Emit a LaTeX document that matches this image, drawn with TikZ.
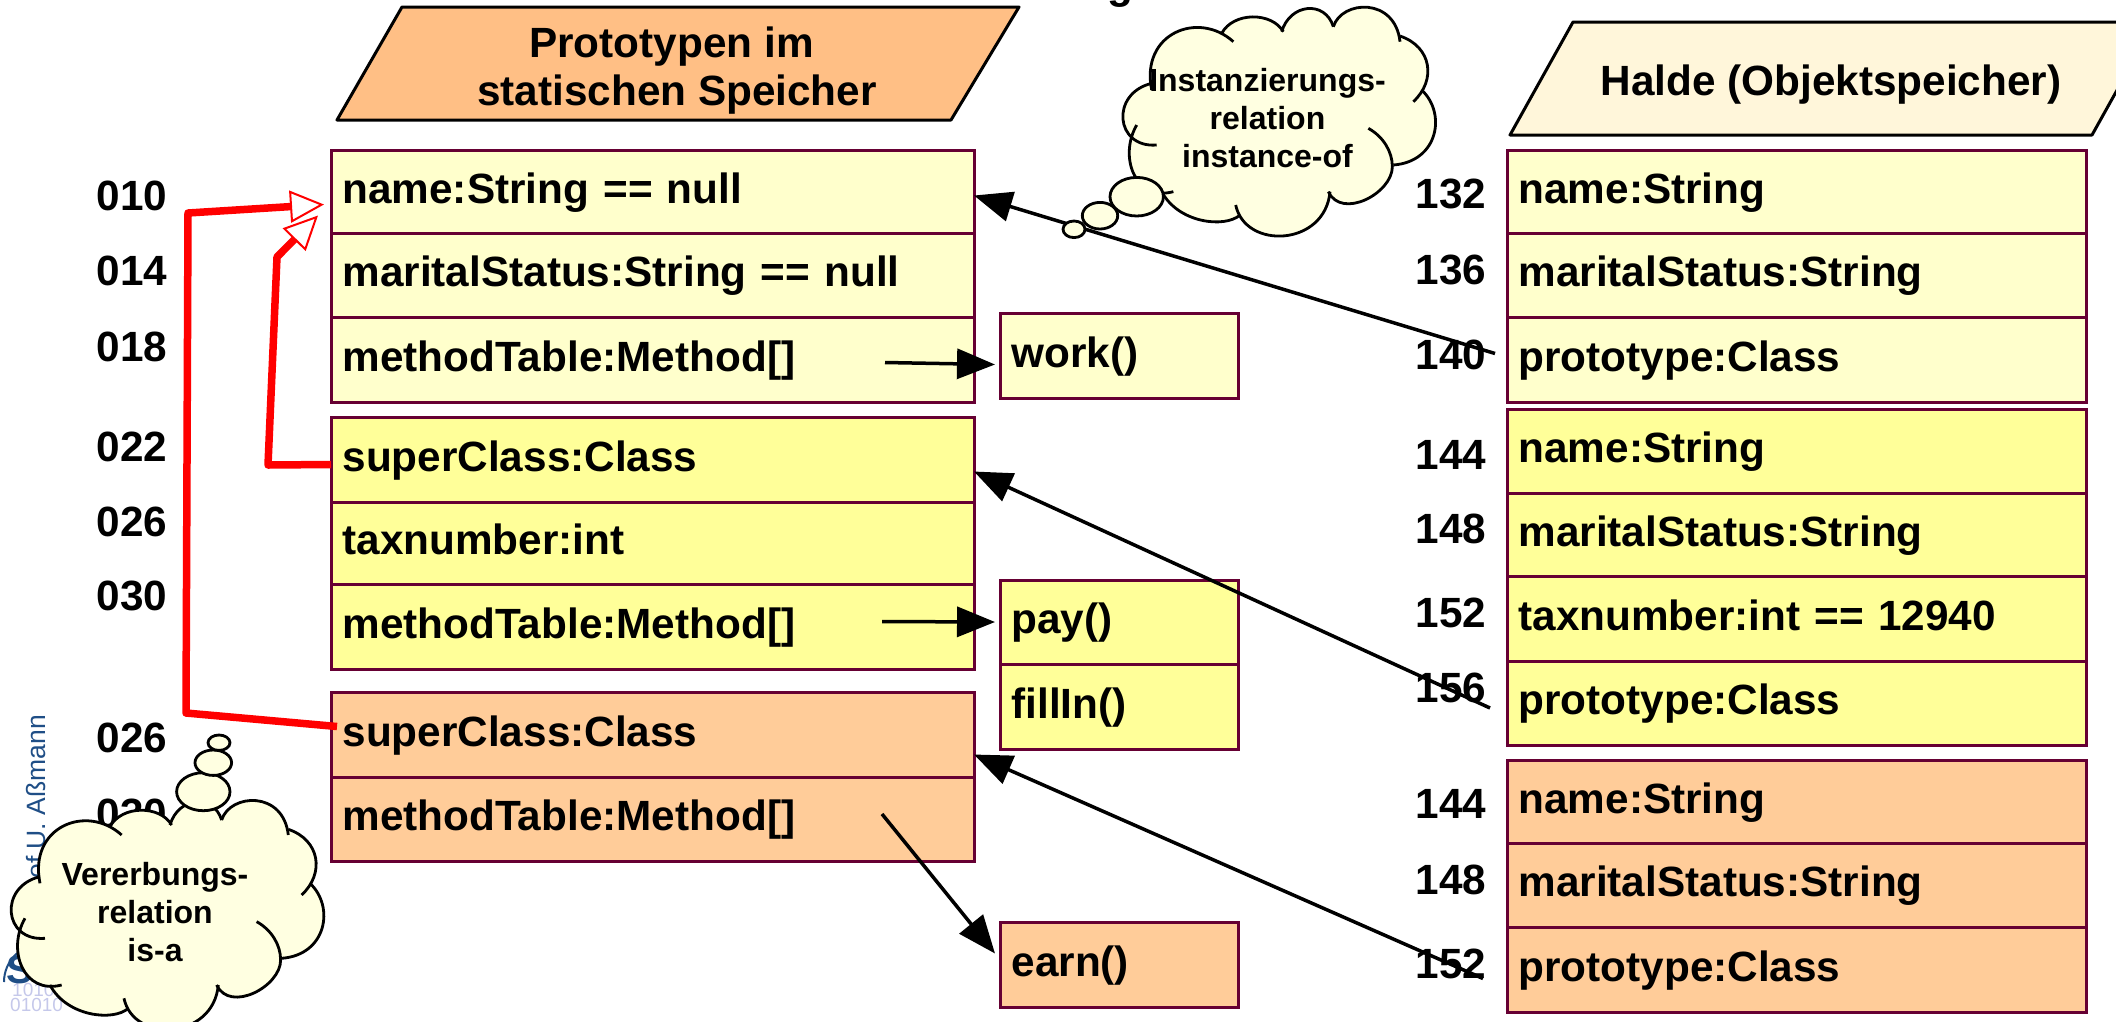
\documentclass[tikz,border=0pt]{standalone}
\usepackage{xcolor}
\usepackage{fontspec}
\setmainfont{Liberation Sans}
\usepackage{tikz}
\usetikzlibrary{arrows.meta, positioning, calc}

\definecolor{paleyellow}{HTML}{FFFFCC}
\definecolor{brightyellow}{HTML}{FFFF99}
\definecolor{paleorange}{HTML}{FFCC99}
\definecolor{headorange}{HTML}{FFBF85}
\definecolor{headcream}{HTML}{FFF6DA}
\definecolor{cloudyellow}{HTML}{FFFFE1}
\definecolor{boxline}{HTML}{660033}
\definecolor{logoblue}{HTML}{1F4E86}
\definecolor{logolight}{HTML}{C5C8EA}

\tikzset{
	rowbox/.style={draw=boxline, line width=3pt, rectangle, anchor=north west, outer sep=0pt, inner ysep=0pt, inner xsep=11.5pt, align=left, text height=33pt, text depth=10pt, font=\rowfont},
	leftrow/.style={rowbox, text width=620pt},
	rightrow/.style={rowbox, text width=556pt},
	methodrow/.style={rowbox, text width=215pt},
	addr/.style={anchor=base, inner sep=0pt, font=\rowfont},
	headbox/.style={draw=black, line width=3pt, line join=round},
	headtext/.style={align=center, inner sep=0pt, font=\rowfont},
	cloudtext/.style={align=center, inner sep=0pt, font=\cloudfont},
	bubble/.style={draw=black, fill=cloudyellow, line width=2.8pt},
	logobits/.style={anchor=west, inner sep=0pt, text=logolight, font=\fontsize{19}{22}\selectfont},
	ptr/.style={draw=black, line width=3.5pt, -{Triangle[length=38pt, width=30pt]}},
	isa/.style={draw=red, line width=7.5pt, line join=round, -{Triangle[length=34pt, width=32pt, fill=white, line width=2pt]}}
}

\newcommand{\rowfont}{\fontsize{42.3}{48}\selectfont\bfseries}
\newcommand{\cloudfont}{\fontsize{32}{38}\selectfont\bfseries}

% one cloud, in a 1/3 scale grid
\newcommand{\cloudshape}[1]{
	\begin{scope}[shift={(#1)}, scale=0.3333]
		\fill[cloudyellow] (135,775) .. controls (10,785) and (-5,620) .. (120,590)
			-- (120,610) .. controls (85,440) and (260,370) .. (365,465)
			-- (330,440) .. controls (365,375) and (480,375) .. (515,435)
			.. controls (535,350) and (640,340) .. (665,420)
			.. controls (690,340) and (850,330) .. (865,465)
			-- (865,448) .. controls (960,480) and (975,580) .. (905,645)
			-- (930,610) .. controls (1005,680) and (980,825) .. (845,835)
			.. controls (842,920) and (690,1000) .. (650,915)
			.. controls (640,1080) and (400,1090) .. (372,955)
			-- (385,985) .. controls (340,1025) and (200,1010) .. (150,915)
			-- (185,915) .. controls (70,945) and (20,810) .. (75,715) -- cycle;
		\begin{scope}[draw=black, line width=2.8pt]
			\draw (135,775) .. controls (10,785) and (-5,620) .. (120,590);
			\draw (120,610) .. controls (85,440) and (260,370) .. (365,465);
			\draw (330,440) .. controls (365,375) and (480,375) .. (515,435);
			\draw (510,435) .. controls (535,350) and (640,340) .. (665,420);
			\draw (665,420) .. controls (690,340) and (850,330) .. (865,465);
			\draw (865,448) .. controls (960,480) and (975,580) .. (905,645);
			\draw (930,610) .. controls (1005,680) and (980,825) .. (845,835);
			\draw (770,725) .. controls (815,750) and (842,795) .. (842,840) .. controls (842,920) and (690,1000) .. (650,915);
			\draw (655,915) .. controls (640,1080) and (400,1090) .. (372,955);
			\draw (385,985) .. controls (340,1025) and (200,1010) .. (150,915);
			\draw (185,915) .. controls (70,945) and (20,810) .. (75,715);
		\end{scope}
	\end{scope}
}

\begin{document}
\begin{tikzpicture}[x=1pt, y=-1pt]
	\useasboundingbox (0,0) rectangle (2116,1021);
	\clip (0,0) rectangle (2116,1021);

	% page furniture behind the picture
	\node[anchor=base, inner sep=0pt, font=\rowfont] (topletter) at (1120,-2) {g};
	\node[rotate=90, anchor=base east, inner sep=0pt, text=logoblue, font=\fontsize{26.5}{30}\selectfont] (author) at (45,715) {Prof U. Aßmann};
	\draw[logoblue, line width=2pt] (4,982) arc (180:360:38);
	\node[logobits] (logobitsA) at (12,990) {1010};
	\node[logobits] (logobitsB) at (10,1005) {01010};
	\node[anchor=west, inner sep=0pt, text=logoblue, font=\fontsize{40}{44}\selectfont\bfseries] (logoletter) at (6,970) {S};

	% headers
	\draw[headbox, fill=headorange] (337,120) -- (402,7) -- (1019,7) -- (951,120) -- cycle;
	\node[headtext] (headstatic) at (677,71) {Prototypen im\hspace*{11pt}\\statischen Speicher};
	\draw[headbox, fill=headcream] (1510,135) -- (1573,22) -- (2155,22) -- (2092,135) -- cycle;
	\node[headtext] (headheap) at (1831,85) {Halde (Objektspeicher)};

	% addresses
	\foreach \i/\y/\t in {1/196/010, 2/271/014, 3/347/018, 4/447/022, 5/522/026, 6/596/030, 7/738/026, 8/814/030}
	\node[addr] (addrL\i) at (132,\y+14) {\t};

	\foreach \i/\y/\t in {1/194/132, 2/270/136, 3/355/140, 4/455/144, 5/529/148, 6/613/152, 7/688/156, 8/804/144, 9/880/148, 10/964/152}
	\node[addr] (addrR\i) at (1451,\y+14) {\t};

	% prototypes
	\foreach \rowname/\y/\h/\rowtext in {nameA/150/83/{name:String == null}, statusA/233/84/{maritalStatus:String == null}, methodA/317/85/{methodTable:Method[]}}
	\node[leftrow, fill=paleyellow, minimum height=\h pt] (\rowname) at (331,\y) {\rowtext};

	\foreach \rowname/\y/\h/\rowtext in {superB/417/85/{superClass:Class}, taxB/502/82/{taxnumber:int}, methodB/584/85/{methodTable:Method[]}}
	\node[leftrow, fill=brightyellow, minimum height=\h pt] (\rowname) at (331,\y) {\rowtext};

	\foreach \rowname/\y/\h/\rowtext in {superC/692/85/{superClass:Class}, methodC/777/84/{methodTable:Method[]}}
	\node[leftrow, fill=paleorange, minimum height=\h pt] (\rowname) at (331,\y) {\rowtext};

	% method tables
	\node[methodrow, fill=paleyellow, minimum height=85pt] (work) at (1000,313) {work()};
	\node[methodrow, fill=brightyellow, minimum height=84pt] (pay) at (1000,580) {pay()};
	\node[methodrow, fill=brightyellow, minimum height=85pt] (fillin) at (1000,664) {fillIn()};
	\node[methodrow, fill=paleorange, minimum height=85pt] (earn) at (1000,922) {earn()};

	% heap objects
	\foreach \rowname/\y/\h/\rowtext in {heapnameA/150/83/{name:String}, heapstatusA/233/84/{maritalStatus:String}, heapprotoA/317/85/{prototype:Class}}
	\node[rightrow, fill=paleyellow, minimum height=\h pt] (\rowname) at (1507,\y) {\rowtext};

	\foreach \rowname/\y/\h/\rowtext in {heapnameB/409/84/{name:String}, heapstatusB/493/83/{maritalStatus:String}, heaptaxB/576/85/{taxnumber:int == 12940}, heapprotoB/661/84/{prototype:Class}}
	\node[rightrow, fill=brightyellow, minimum height=\h pt] (\rowname) at (1507,\y) {\rowtext};

	\foreach \rowname/\y/\h/\rowtext in {heapnameC/760/83/{name:String}, heapstatusC/843/84/{maritalStatus:String}, heapprotoC/927/85/{prototype:Class}}
	\node[rightrow, fill=paleorange, minimum height=\h pt] (\rowname) at (1507,\y) {\rowtext};

	% instance-of and method pointers
	\draw[ptr] ([xshift=-12pt,yshift=6pt]heapprotoA.west) -- ([xshift=0pt,yshift=-4pt]nameA.east);
	\draw[ptr] ([xshift=-17pt,yshift=-5pt]heapprotoB.west) -- ([xshift=0pt,yshift=-12pt]superB.east);
	\draw[ptr] ([xshift=-24pt,yshift=-9pt]heapprotoC.west) -- ([xshift=0pt,yshift=-20pt]superC.east);
	\draw[ptr] ([xshift=-89pt,yshift=-3pt]methodA.east) -- ([xshift=-5pt,yshift=-9pt]work.west);
	\draw[ptr] ([xshift=-92pt,yshift=5pt]methodB.east) -- ([xshift=-5pt]pay.west);
	\draw[ptr] ([xshift=-92pt,yshift=5pt]methodC.east) -- ([xshift=-5pt,yshift=11pt]earn.west);

	% is-a pointers
	\coordinate (bendCa) at (186,713);
	\coordinate (bendCb) at (188,213);
	\coordinate (bendBa) at (268,465);
	\coordinate (bendBb) at (277,257);
	\draw[isa] ([xshift=6pt,yshift=8pt]superC.west) -- (bendCa) -- (bendCb) -- ([xshift=-7pt,yshift=-13pt]nameA.west);
	\draw[isa] ([yshift=-5pt]superB.west) -- (bendBa) -- (bendBb) -- ([xshift=-13pt,yshift=-24pt]nameA.west);

	% clouds
	\cloudshape{0,680}
	\draw[bubble] (203.3,791.7) ellipse (26.7 and 19);
	\draw[bubble] (213.3,762.7) ellipse (18.3 and 12.7);
	\draw[bubble] (219,742.7) ellipse (11 and 7.7);
	\node[cloudtext] (isatext) at (155,912) {Vererbungs-\\relation\\is-a};

	\cloudshape{1111.7,-113.3}
	\draw[bubble] (1136.7,196.7) ellipse (26.7 and 19.3);
	\draw[bubble] (1100,215.7) ellipse (17.7 and 13.3);
	\draw[bubble] (1074,229.3) ellipse (11 and 8.3);
	\node[cloudtext] (instancetext) at (1267.5,118) {Instanzierungs-\\relation\\instance-of};
\end{tikzpicture}
\end{document}
